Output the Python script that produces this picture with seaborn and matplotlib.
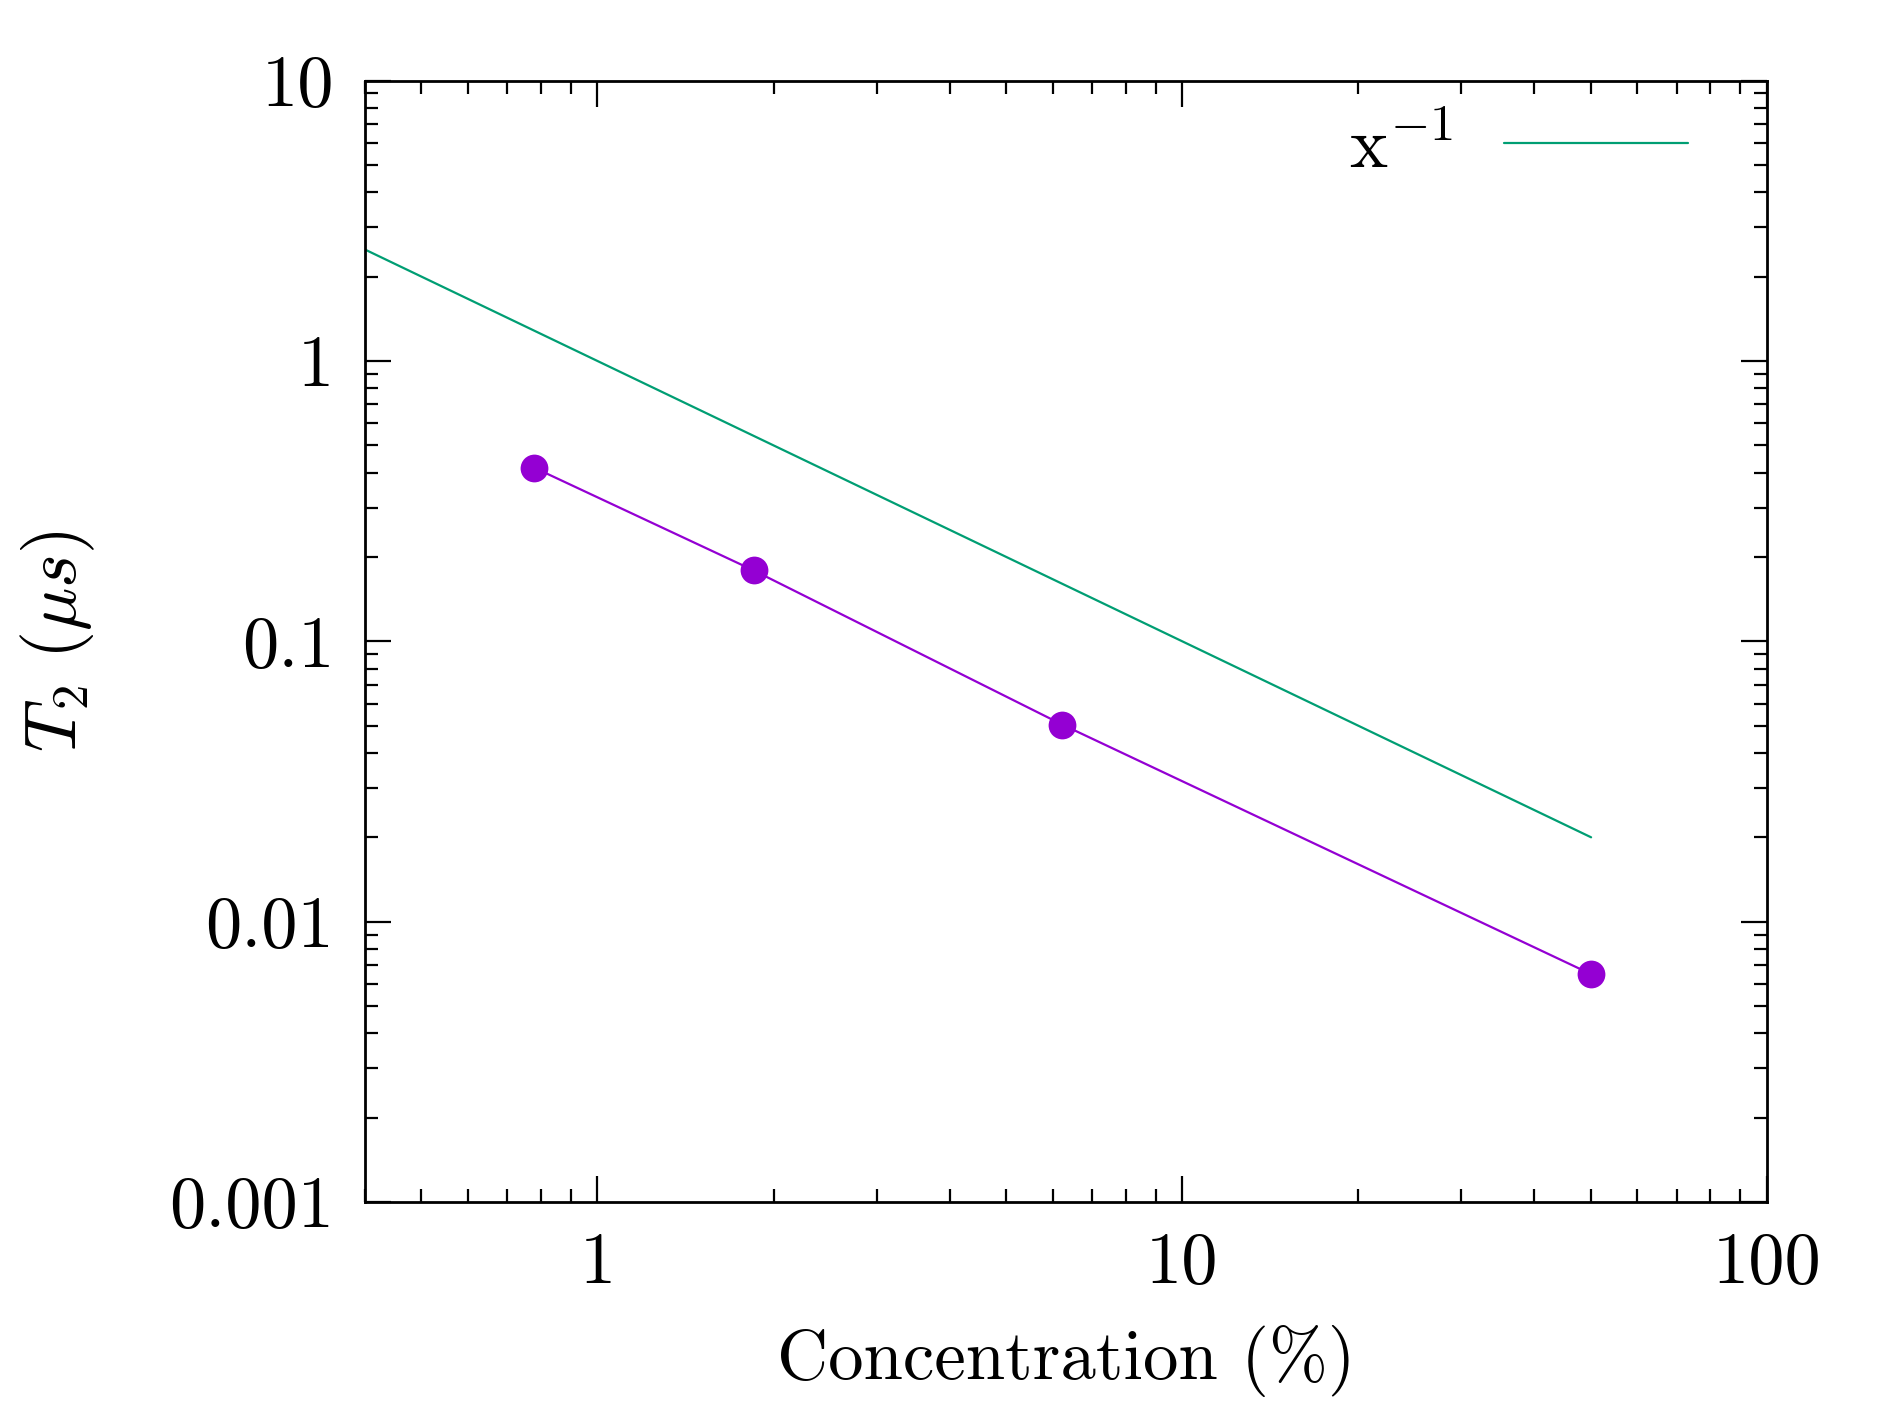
import numpy as np
import pandas as pd
import matplotlib
matplotlib.use("Agg")
import matplotlib.pyplot as plt
import seaborn as sns

# Measured T2 values against concentration
concentration = [0.78, 1.85, 6.23, 50.0]
t2_us = [0.416, 0.179, 0.0505, 0.0065]

# x^-1 guide line (straight on log-log, two end points)
guide_x = [0.4, 50.0]
guide_y = [2.5, 0.02]

x_ticks = [1, 10, 100]
x_tick_labels = ["1", "10", "100"]
y_ticks = [0.001, 0.01, 0.1, 1, 10]
y_tick_labels = ["0.001", "0.01", "0.1", "1", "10"]

FS = 52

sns.set_theme(style="ticks")
plt.rcParams.update({
    "font.family": ["cmr10", "DejaVu Serif"],
    "mathtext.fontset": "cm",
    "axes.unicode_minus": False,
    "axes.formatter.use_mathtext": True,
    "font.size": FS,
    "text.color": "black",
    "axes.labelcolor": "black",
    "xtick.color": "black",
    "ytick.color": "black",
    "axes.linewidth": 2.0,
    "xtick.direction": "in",
    "ytick.direction": "in",
})

fig, ax = plt.subplots(figsize=(18.9, 14.15), dpi=100)
fig.subplots_adjust(left=0.193, right=0.935, top=0.943, bottom=0.1505)

guide = pd.DataFrame({"x": guide_x, "y": guide_y})
data = pd.DataFrame({"x": concentration, "y": t2_us})

sns.lineplot(data=guide, x="x", y="y", ax=ax, color="#009E73", lw=1.6,
             label=r"x$^{-1}$", sort=False)
sns.lineplot(data=data, x="x", y="y", ax=ax, color="#9400D3", lw=1.6,
             marker="o", markersize=20, markeredgewidth=0, sort=False,
             legend=False)

ax.set_xscale("log")
ax.set_yscale("log")
ax.set_xlim(0.4, 100)
ax.set_ylim(0.001, 10)
ax.set_xticks(x_ticks)
ax.set_xticklabels(x_tick_labels)
ax.set_yticks(y_ticks)
ax.set_yticklabels(y_tick_labels)

ax.tick_params(which="major", length=19, width=1.6, pad=22,
               top=True, right=True, labelsize=FS)
ax.tick_params(which="minor", length=9.5, width=1.6,
               top=True, right=True)

ax.set_xlabel("Concentration (%)", fontsize=51, labelpad=20)
ax.set_ylabel(r"$T_2\ (\mu s)$", fontsize=FS, labelpad=52)

for s in ax.spines.values():
    s.set_visible(True)
    s.set_color("black")

ax.legend(loc="upper right", frameon=False, markerfirst=False,
          handlelength=2.55, handletextpad=0.7, fontsize=FS,
          borderaxespad=0.0, bbox_to_anchor=(0.964, 0.994))

fig.savefig("out.png", dpi=100)
